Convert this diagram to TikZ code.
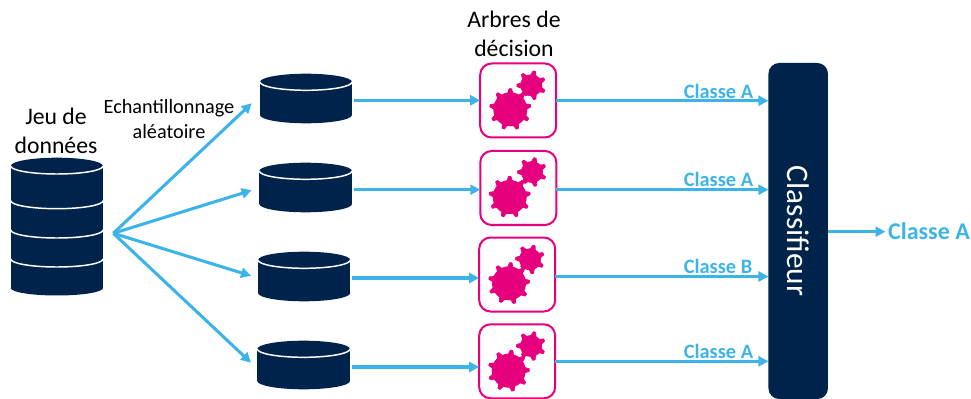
\documentclass[tikz,border=0pt]{standalone}
\usepackage{fontspec}
\setmainfont{Carlito}
\usetikzlibrary{arrows.meta,calc}
\definecolor{navy}{HTML}{00234B}
\definecolor{sky}{HTML}{3DB4E8}
\definecolor{rose}{HTML}{E6007E}
\newcommand\dbshape[5]{% name, x1, x2, c, se
  \pgfmathsetmacro\dbcx{(#2+#3)/2}\pgfmathsetmacro\dbrx{(#3-#2)/2}
  \fill[navy] (#2,#4) rectangle (#3,#5);
  \fill[navy] (\dbcx,#4) ellipse [x radius=\dbrx,y radius=8.3];
  \fill[navy] (\dbcx,#5) ellipse [x radius=\dbrx,y radius=8.3];
  \draw[dbline] (#2,#4) arc [start angle=180,end angle=0,x radius=\dbrx,y radius=8.3];
  \pgfmathsetmacro\dbw{(#3-#2)*0.75}\pgfmathsetmacro\dbh{(#5-#4+16.6)*0.75}\pgfmathsetmacro\dbcy{(#4+#5)/2}
  \node[inner sep=0pt,outer sep=0pt,minimum width=\dbw pt,minimum height=\dbh pt] (#1) at (\dbcx,\dbcy) {};
}
\newcommand\gearshape[6]{% cx, cy, body r, outer r, teeth, rot
  \fill[rose] (#1,#2) circle [radius=#3];
  \pgfmathsetmacro\gearstep{360/#5}
  \pgfmathsetmacro\gearlast{#5-1}
  \pgfmathsetmacro\gearbase{asin(2.7/#3)}
  \pgfmathsetmacro\geartip{asin(1.2/#4)}
  \foreach \k in {0,...,\gearlast}{
    \pgfmathsetmacro\gearth{#6+\k*\gearstep}
    \fill[rose,draw=rose,line width=0.6pt,line join=round]
      ($(#1,#2)+({\gearth-\gearbase}:{#3-0.6})$) -- ($(#1,#2)+({\gearth-\geartip}:{#4-0.4})$)
      -- ($(#1,#2)+({\gearth+\geartip}:{#4-0.4})$) -- ($(#1,#2)+({\gearth+\gearbase}:{#3-0.6})$) -- cycle;
  }
}
\newcommand\gearpair[6]{% big cx,cy, small cx,cy, big rot, small rot
  \gearshape{#3}{#4}{11}{14.8}{7}{#6}
  \fill[white] (#1,#2) circle [radius=20];
  \gearshape{#1}{#2}{17}{21}{9}{#5}
}
\tikzset{
  x=0.75pt,y=-0.75pt,
  dbline/.style={draw=white,line width=1.1pt},
  flow/.style={draw=sky,line width=2.3pt,-{Triangle[length=7.5pt,width=7.5pt]}},
  treebox/.style={draw=rose,line width=1.5pt,fill=white,rounded corners=8.5pt,minimum width=57pt,minimum height=55.5pt,inner sep=0pt,outer sep=0pt},
  clfbox/.style={fill=navy,rounded corners=8pt,minimum width=44.6pt,minimum height=252pt,inner sep=0pt,outer sep=0pt,text=white,font=\fontsize{23.5}{28}\selectfont},
  heading/.style={align=center,inner sep=0pt,font=\fontsize{17.8}{21.6}\selectfont,text=black},
  sublabel/.style={align=center,inner sep=0pt,font=\fontsize{15.2}{18.5}\selectfont,text=black},
  classlabel/.style={anchor=base,inner sep=0pt,font=\fontsize{15.3}{19}\selectfont\bfseries,text=sky},
  resultlabel/.style={anchor=base,inner sep=0pt,font=\fontsize{18}{22}\selectfont\bfseries,text=sky},
}
\begin{document}
\begin{tikzpicture}
\useasboundingbox (0,0) rectangle (971,399);
% big database
\fill[navy] (10.7,166) rectangle (103,288);
\fill[navy] (56.85,166) ellipse [x radius=46.15,y radius=8.3];
\fill[navy] (56.85,288) ellipse [x radius=46.15,y radius=7.5];
\foreach \c in {166,200.7,230,259}{
  \draw[dbline] (10.7,\c) arc [start angle=180,end angle=0,x radius=46.15,y radius=8];
}
\node[inner sep=0pt,outer sep=0pt,minimum width=69pt,minimum height=103pt] (dbmain) at (56.85,227) {};
% small databases
\dbshape{db1}{260}{352}{82}{115}
\dbshape{db2}{259.3}{352}{171}{204}
\dbshape{db3}{258}{350.3}{260}{293}
\dbshape{db4}{257.3}{350}{349}{381}
% tree boxes
\node[treebox] (box1) at (518.2,100.5) {};
\node[treebox] (box2) at (518.3,188) {};
\node[treebox] (box3) at (517.2,274.5) {};
\node[treebox] (box4) at (517.2,361.3) {};
\gearpair{510.3}{109.3}{531.3}{85.3}{-90}{-78}
\gearpair{509.7}{197}{532}{172}{-90}{-78}
\gearpair{509}{283.3}{530}{259.3}{-85}{-74}
\gearpair{508.7}{370.7}{531}{346}{-82}{-76}
% classifier
\node[clfbox] (clf) at (798.2,231) {\rotatebox{-90}{Classifieur}};
% texts
\node[heading] (t1) at (56,130.5) {Jeu de\\données};
\node[heading] (t2) at (514,34) {Arbres de\\décision};
\node[sublabel] (t3) at (169,119) {Echantillonnage\\aléatoire};
% free ends
\coordinate (fan) at (113.3,233.3);
\coordinate (tip1) at (251.7,103.3);
\coordinate (tip2) at (251.7,190.3);
\coordinate (tip3) at (251,275.8);
\coordinate (tip4) at (251,362.7);
\foreach \n in {1,2,3,4}{\draw[flow] (fan) -- (tip\n);}
% rows
\coordinate (a1) at (0,100.3);
\coordinate (a2) at (0,189.7);
\coordinate (a3) at (0,278);
\coordinate (a4) at (0,367);
\coordinate (b1) at (0,100.7);
\coordinate (b2) at (0,189.7);
\coordinate (b3) at (0,276.5);
\coordinate (b4) at (0,361.3);
\foreach \n in {1,2,3,4}{
  \draw[flow] ([xshift=1.5pt]db\n.east |- a\n) -- (box\n.west |- a\n);
  \draw[flow] (box\n.east |- b\n) -- (clf.west |- b\n);
}
\coordinate (res) at (885.5,231.7);
\draw[flow] (clf.east |- res) -- (res);
\node[classlabel] (c1) at (718.5,98.2) {Classe A};
\node[classlabel] (c2) at (718.5,186.5) {Classe A};
\node[classlabel] (c3) at (718,273.2) {Classe B};
\node[classlabel] (c4) at (718.5,358.2) {Classe A};
\node[resultlabel] (c5) at (929,239) {Classe A};
\end{tikzpicture}
\end{document}
